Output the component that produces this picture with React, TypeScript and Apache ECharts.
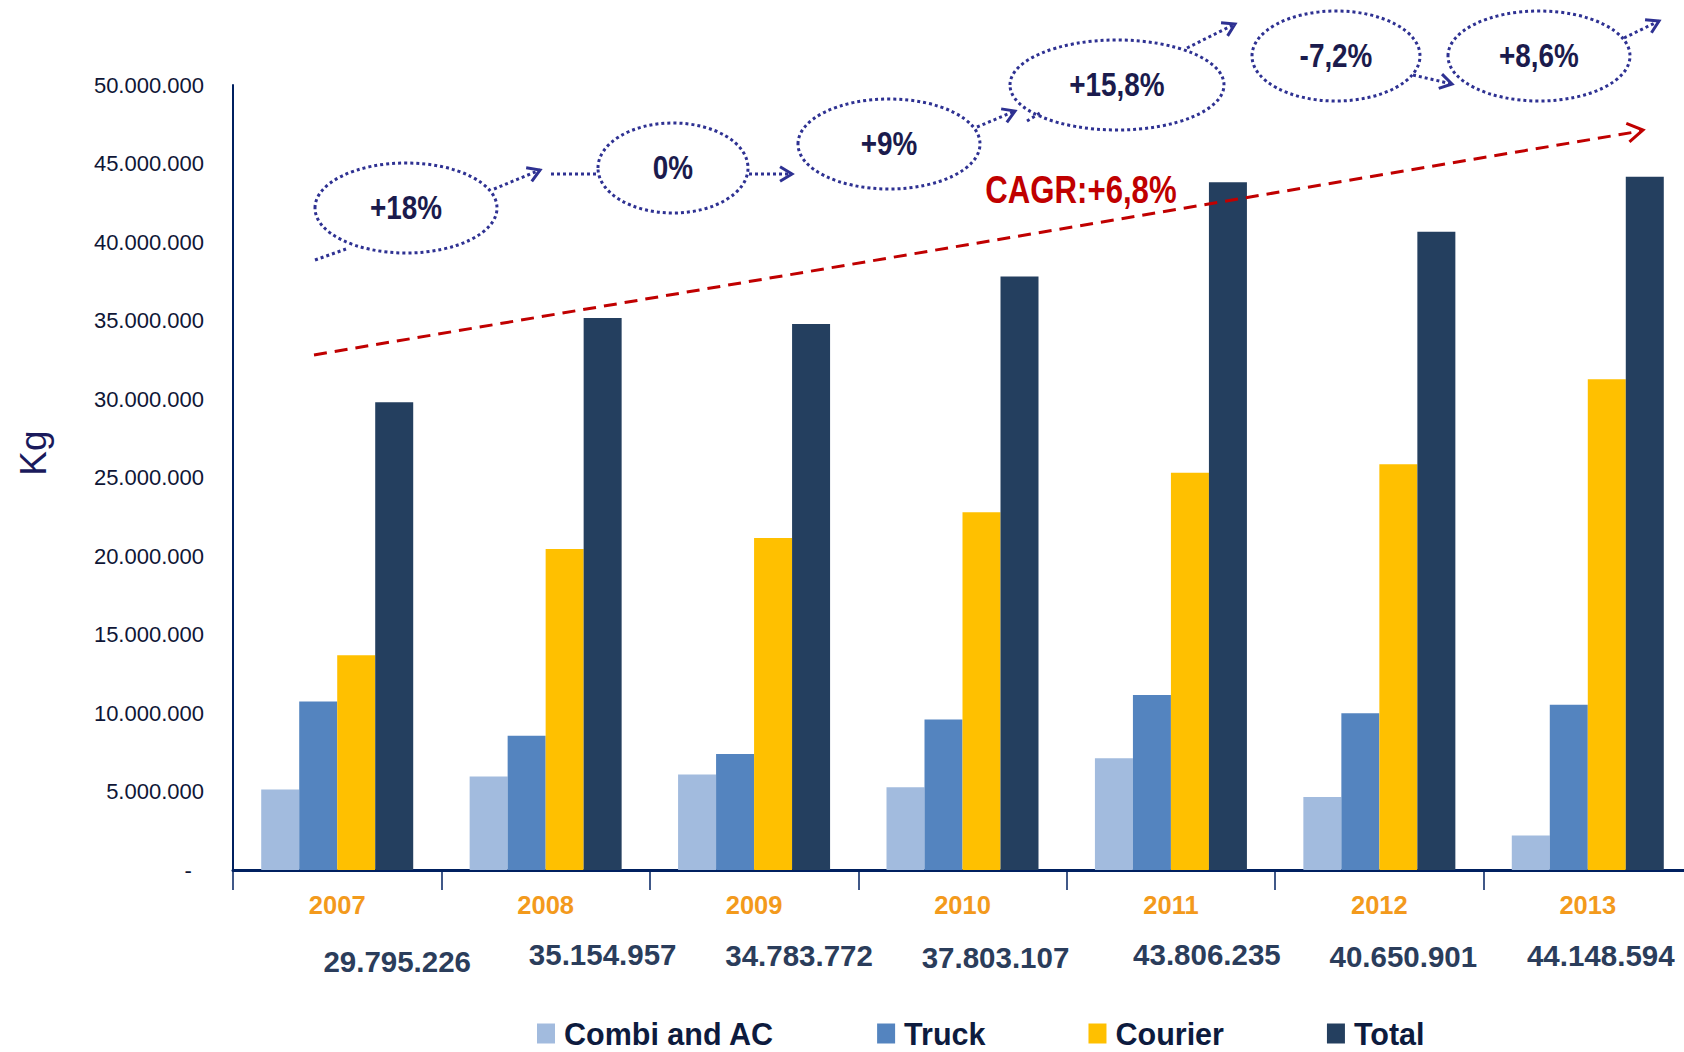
import React, { useEffect, useRef } from "react";
import * as echarts from "echarts";

const years = ["2007", "2008", "2009", "2010", "2011", "2012", "2013"];
const combiAC = [5130000, 5950000, 6090000, 5270000, 7110000, 4650000, 2190000];
const truck = [10740000, 8550000, 7390000, 9580000, 11150000, 9990000, 10530000];
const courier = [13680000, 20450000, 21140000, 22780000, 25310000, 25850000, 31260000];
const total = [29795226, 35154957, 34783772, 37803107, 43806235, 40650901, 44148594];
const seriesNames = ["Combi and AC", "Truck", "Courier", "Total"];
const growthLabels = ["+18%", "0%", "+9%", "+15,8%", "-7,2%", "+8,6%"];
const cagrLabel = "CAGR:+6,8%";
const yMin = 0;
const yMax = 50000000;
const yInterval = 5000000;

// label nudges (layout only)
const totalLabelOffsets = [
  [3, 71], [0, 64], [-12, 65], [-24, 67], [-21, 64], [-33, 66], [-44, 65],
];

const FONT = "'Liberation Sans', Arial, sans-serif";
const NAVY = "#002060";
const DOT = "#2E3192";

const fmt = (v: number) =>
  String(Math.round(v)).replace(/\B(?=(\d{3})+(?!\d))/g, ".");

function chevron(x1: number, y1: number, x2: number, y2: number, color: string, size = 14) {
  const a = Math.atan2(y2 - y1, x2 - x1);
  const s = 0.55;
  return {
    type: "polyline",
    shape: {
      points: [
        [x2 - size * Math.cos(a - s), y2 - size * Math.sin(a - s)],
        [x2, y2],
        [x2 - size * Math.cos(a + s), y2 - size * Math.sin(a + s)],
      ],
    },
    style: { stroke: color, lineWidth: 3, fill: "none" },
    z: 10,
  };
}

function dotLine(x1: number, y1: number, x2: number, y2: number) {
  return {
    type: "line",
    shape: { x1, y1, x2, y2 },
    style: { stroke: DOT, lineWidth: 3, lineDash: [3, 3] },
    z: 10,
  };
}

// bubble layout: [cx, cy, rx, ry]
const bubbles = [
  [406, 208, 91, 45],
  [673, 168, 75, 45],
  [889, 144, 91, 45],
  [1117, 85, 107, 45],
  [1336, 56, 84, 45],
  [1539, 56, 91, 45],
];

export default function App() {
  const ref = useRef<HTMLDivElement>(null);
  useEffect(() => {
    if (!ref.current) return;
    const chart = echarts.init(ref.current, null, { renderer: "svg" });

    const graphics: any[] = [];
    bubbles.forEach((b, i) => {
      graphics.push({
        type: "ellipse",
        shape: { cx: b[0], cy: b[1], rx: b[2], ry: b[3] },
        style: { fill: "none", stroke: DOT, lineWidth: 3, lineDash: [3, 3] },
        z: 10,
      });
      graphics.push({
        type: "text",
        x: b[0],
        y: b[1],
        scaleX: 0.82,
        style: {
          text: growthLabels[i],
          fontFamily: FONT,
          fontWeight: "bold",
          fontSize: 34,
          fill: "#1B1B4D",
          align: "center",
          verticalAlign: "middle",
        },
        z: 11,
      });
    });
    // connectors
    const conns = [
      [315, 260, 346, 249, false],
      [494, 189, 540, 170, true],
      [551, 174, 598, 174, false],
      [749, 174, 792, 174, true],
      [977, 127, 1015, 111, true],
      [1027, 121, 1040, 113, false],
      [1187, 48, 1235, 24, true],
      [1413, 75, 1452, 84, true],
      [1624, 38, 1659, 21, true],
    ];
    conns.forEach((c: any) => {
      graphics.push(dotLine(c[0], c[1], c[2], c[3]));
      if (c[4]) graphics.push(chevron(c[0], c[1], c[2], c[3], DOT));
    });
    // CAGR
    graphics.push({
      type: "line",
      shape: { x1: 314, y1: 355, x2: 1641, y2: 131 },
      style: { stroke: "#C00000", lineWidth: 3, lineDash: [13, 8] },
      z: 9,
    });
    graphics.push(chevron(314, 355, 1643, 130, "#C00000", 18));
    graphics.push({
      type: "text",
      x: 1081,
      y: 190,
      scaleX: 0.82,
      style: {
        text: cagrLabel,
        fontFamily: FONT,
        fontWeight: "bold",
        fontSize: 38,
        fill: "#C00000",
        align: "center",
        verticalAlign: "middle",
      },
      z: 11,
    });
    graphics.push({
      type: "text",
      x: 33,
      y: 453,
      rotation: Math.PI / 2,
      style: {
        text: "Kg",
        fontFamily: FONT,
        fontSize: 37,
        fill: "#1A1A5C",
        align: "center",
        verticalAlign: "middle",
      },
    });

    const colors = ["#A2BBDE", "#5484BF", "#FFC000", "#243F5F"];
    const datasets = [combiAC, truck, courier, total];

    chart.setOption({
      animation: false,
      color: colors,
      grid: { left: 233, right: 0, top: 85, bottom: 182, containLabel: false },
      legend: {
        data: seriesNames,
        left: 532,
        top: 1013,
        icon: "rect",
        itemWidth: 18,
        itemHeight: 20,
        itemGap: 103,
        textStyle: {
          fontFamily: FONT,
          fontWeight: "bold",
          fontSize: 30.5,
          color: "#0D1B3E",
          padding: [0, 0, 0, 4],
        },
      },
      xAxis: {
        type: "category",
        data: years,
        axisLine: { lineStyle: { color: NAVY, width: 3 } },
        axisTick: { show: true, length: 20, lineStyle: { color: NAVY, width: 1.5 } },
        axisLabel: {
          margin: 22,
          fontFamily: FONT,
          fontWeight: "bold",
          fontSize: 25.5,
          color: "#F39A1C",
        },
      },
      yAxis: {
        type: "value",
        min: yMin,
        max: yMax,
        interval: yInterval,
        splitLine: { show: false },
        axisTick: { show: false },
        axisLine: { show: true, lineStyle: { color: NAVY, width: 2 } },
        axisLabel: {
          margin: 29,
          fontFamily: FONT,
          fontSize: 22,
          color: "#0F1636",
          formatter: (v: number) => (v === 0 ? "-  " : fmt(v)),
        },
      },
      graphic: graphics,
      series: datasets.map((d, i) => ({
        name: seriesNames[i],
        type: "bar",
        barWidth: 38,
        barGap: "0%",
        data:
          i === 3
            ? d.map((v, j) => ({
                value: v,
                label: {
                  show: true,
                  position: "bottom",
                  offset: totalLabelOffsets[j],
                  formatter: () => fmt(v),
                  fontFamily: FONT,
                  fontWeight: "bold",
                  fontSize: 29.5,
                  color: "#2B3D5B",
                },
              }))
            : d,
      })),
    });
    return () => chart.dispose();
  }, []);
  return (
    <div style={{ position: "absolute", left: 0, top: 0, width: 1684, height: 1052, overflow: "hidden" }}>
      <div ref={ref} style={{ width: 1692, height: 1052 }} />
    </div>
  );
}
